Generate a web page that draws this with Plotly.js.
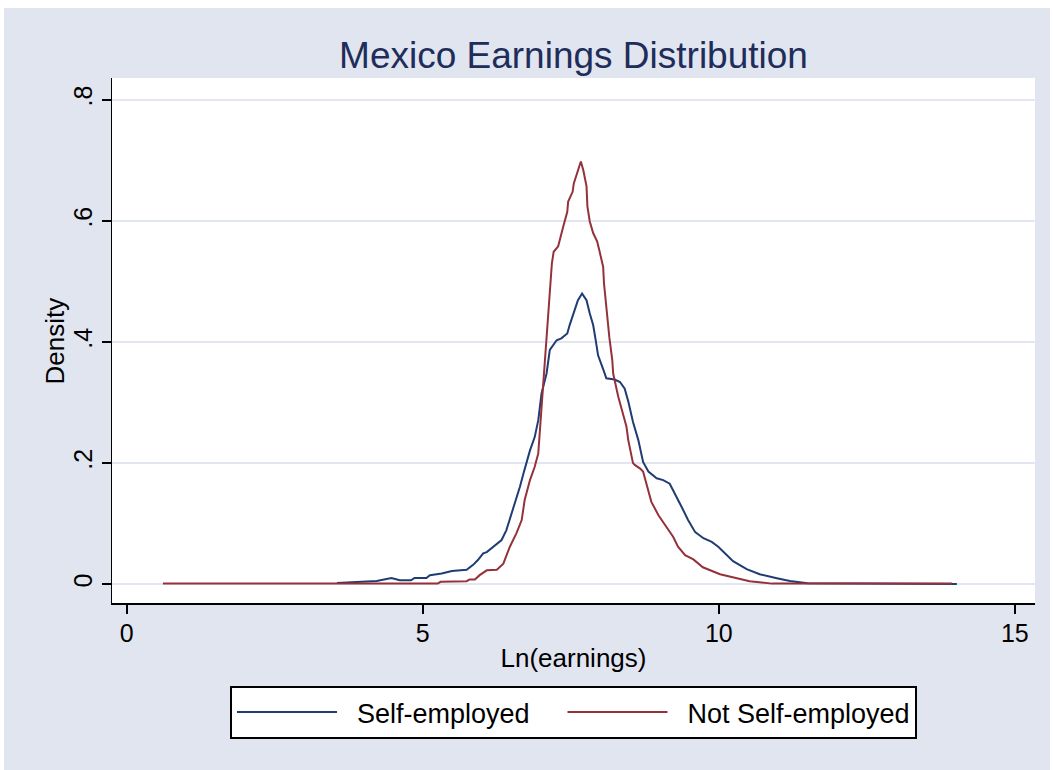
<!DOCTYPE html>
<html><head><meta charset="utf-8">
<script src="https://cdn.plot.ly/plotly-3.0.1.min.js"></script>
<style>html,body{margin:0;padding:0;background:#fff}</style>
</head><body><div id="chart" style="width:1053px;height:770px"></div>
<script>
// Self-employed kernel density (Ln earnings, density)
const selfX = [3.55,4.22,4.47,4.61,4.80,4.86,5.06,5.12,5.32,5.49,5.74,5.85,5.93,6.02,6.08,6.19,6.33,6.41,6.50,6.58,6.64,6.70,6.81,6.89,6.95,7.005,7.09,7.145,7.21,7.26,7.34,7.44,7.48,7.55,7.62,7.69,7.765,7.82,7.877,7.92,7.96,8.05,8.10,8.24,8.33,8.41,8.47,8.55,8.64,8.72,8.81,8.95,9.06,9.17,9.26,9.37,9.48,9.60,9.74,9.88,9.99,10.13,10.24,10.47,10.69,10.98,11.20,11.50,12.5,14.02];
const selfY = [0.002,0.0055,0.0104,0.0066,0.0066,0.0104,0.0104,0.015,0.0176,0.022,0.024,0.032,0.040,0.051,0.053,0.062,0.073,0.089,0.117,0.139,0.161,0.183,0.221,0.243,0.271,0.315,0.348,0.387,0.397,0.403,0.406,0.414,0.428,0.45,0.469,0.480,0.469,0.447,0.428,0.403,0.378,0.354,0.340,0.338,0.334,0.323,0.302,0.268,0.238,0.202,0.186,0.175,0.172,0.166,0.150,0.128,0.106,0.086,0.076,0.070,0.062,0.048,0.038,0.025,0.0165,0.010,0.0055,0.0017,0.0008,0.0005];
// Not self-employed kernel density
const notSelfX = [0.61,5.25,5.30,5.74,5.79,5.88,5.96,6.08,6.25,6.36,6.47,6.58,6.67,6.72,6.81,6.89,6.95,7.005,7.04,7.06,7.10,7.145,7.18,7.21,7.286,7.37,7.44,7.455,7.53,7.55,7.62,7.669,7.71,7.765,7.78,7.82,7.877,7.945,7.98,8.046,8.06,8.10,8.15,8.20,8.215,8.30,8.38,8.44,8.47,8.50,8.55,8.58,8.67,8.72,8.78,8.86,8.98,9.09,9.23,9.31,9.43,9.57,9.73,10.02,10.30,10.52,10.9,13.94];
const notSelfY = [0.001,0.001,0.004,0.005,0.008,0.008,0.015,0.023,0.024,0.034,0.062,0.084,0.106,0.139,0.172,0.194,0.216,0.293,0.348,0.376,0.431,0.486,0.530,0.549,0.558,0.59,0.615,0.632,0.648,0.662,0.684,0.698,0.684,0.657,0.624,0.599,0.58,0.566,0.552,0.524,0.497,0.453,0.408,0.370,0.348,0.31,0.282,0.260,0.238,0.221,0.200,0.197,0.191,0.186,0.163,0.136,0.114,0.098,0.078,0.062,0.048,0.041,0.028,0.0165,0.010,0.005,0.001,0.001];
const seriesNames = ["Self-employed","Not Self-employed"];
const xTickVals = [0,5,10,15];
const xTickText = ["0","5","10","15"];
const yTickVals = [0,0.2,0.4,0.6,0.8];
const yTickText = ["0",".2",".4",".6",".8"];
const xTitle = "Ln(earnings)";
const yTitle = "Density";
const chartTitle = "Mexico Earnings Distribution";

const FONT = "Liberation Sans, Arial, Helvetica, sans-serif";
const BG = "#E1E5EF";
const LEAD = "\u00a0\u00a0";
const TRAIL = "\u00a0\u00a0\u00a0\u2009";

const traces = [
  {x: selfX, y: selfY, type: "scatter", mode: "lines", name: LEAD + seriesNames[0] + TRAIL,
   line: {color: "#1F3C73", width: 2}},
  {x: notSelfX, y: notSelfY, type: "scatter", mode: "lines", name: LEAD + seriesNames[1],
   line: {color: "#95313A", width: 2}}
];

const layout = {
  width: 1053, height: 770,
  paper_bgcolor: BG, plot_bgcolor: "#FFFFFF",
  margin: {l: 112, r: 18, t: 78, b: 167, pad: 0},
  font: {family: FONT, color: "#000"},
  title: {text: chartTitle, font: {size: 37, color: "#1E2D5A", family: FONT},
          xref: "paper", x: 0.5, xanchor: "center", yref: "container", y: 0.928, yanchor: "middle"},
  xaxis: {range: [-0.25, 15.34], tickvals: xTickVals, ticktext: xTickText,
          showgrid: false, zeroline: false, showline: true, linecolor: "#000", linewidth: 1.5,
          ticks: "outside", ticklen: 9, tickwidth: 1.5, tickcolor: "#000",
          ticklabelstandoff: -2,
          tickfont: {size: 25, color: "#000"},
          title: {text: xTitle, font: {size: 26, color: "#000"}, standoff: 3}},
  yaxis: {range: [-0.031, 0.836], tickvals: yTickVals, ticktext: yTickText, tickangle: -90,
          showgrid: true, gridcolor: "#E1E6F0", gridwidth: 2, zeroline: false,
          showline: true, linecolor: "#000", linewidth: 1.5,
          ticks: "outside", ticklen: 9, tickwidth: 1.5, tickcolor: "#000",
          tickfont: {size: 25, color: "#000"}},
  annotations: [
    {text: yTitle, xref: "paper", yref: "paper", x: -0.0618, y: 0.5, xanchor: "center", yanchor: "middle",
     textangle: -90, showarrow: false, font: {size: 26, color: "#000", family: FONT}}
  ],
  showlegend: true,
  legend: {orientation: "h", x: 0.5, xanchor: "center", y: -0.158, yanchor: "top",
           bgcolor: "#FFFFFF", bordercolor: "#000", borderwidth: 2,
           font: {size: 27, color: "#000"}, itemwidth: 100, traceorder: "normal"},
  shapes: [
    {type: "rect", xref: "paper", yref: "paper", x0: -0.2, x1: 1.1, y0: 1.1333, y1: 1.3, layer: "above",
     fillcolor: "#FFFFFF", line: {width: 0}},
    {type: "rect", xref: "paper", yref: "paper", x0: -0.2, x1: -0.1170, y0: -0.4, y1: 1.3, layer: "above",
     fillcolor: "#FFFFFF", line: {width: 0}},
    {type: "rect", xref: "paper", yref: "paper", x0: 1.0163, x1: 1.1, y0: -0.4, y1: 1.3, layer: "above",
     fillcolor: "#FFFFFF", line: {width: 0}}
  ]
};

Plotly.newPlot("chart", traces, layout, {displayModeBar: false, staticPlot: true});
</script>
</body></html>
